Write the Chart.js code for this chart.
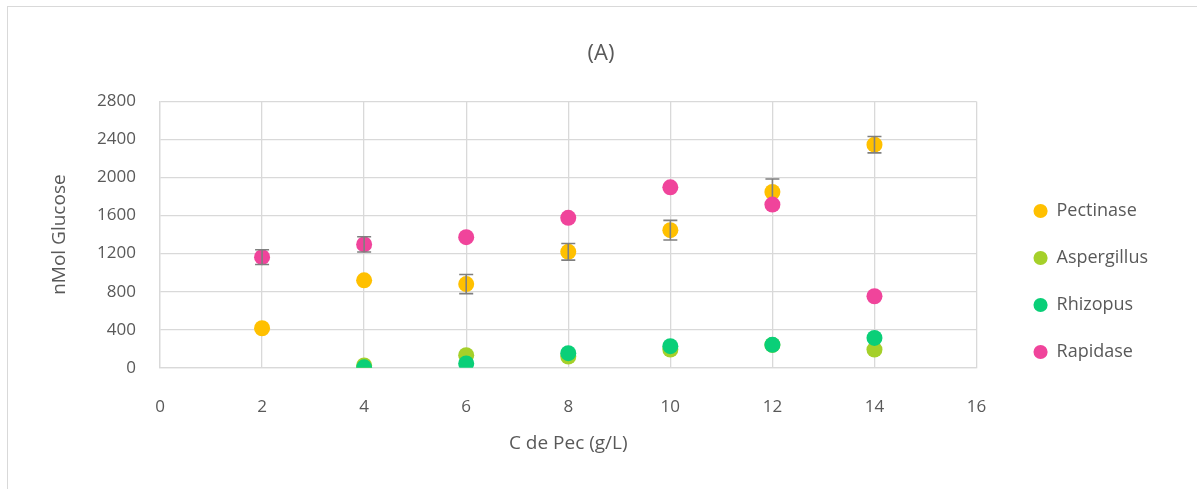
<!DOCTYPE html>
<html>
<head>
<meta charset="utf-8">
<script src="https://cdn.jsdelivr.net/npm/chart.js@4/dist/chart.umd.min.js"></script>
<style>
  html, body { margin: 0; padding: 0; background: #fff; }
  #wrap { position: absolute; left: 0; top: 0; width: 1197px; height: 489px; }
  #frame { position: absolute; left: 7px; top: 6px; width: 1190px; height: 483px;
           border-left: 1px solid #d9d9d9; border-top: 1px solid #d9d9d9; }
</style>
</head>
<body>
<div id="wrap">
  <div id="frame"></div>
  <canvas id="chart" width="1197" height="489"></canvas>
</div>
<script>
// concentration (g/L)
var concentrations = [2, 4, 6, 8, 10, 12, 14];

var pectinase    = [416, 919, 880, 1219, 1447, 1848, 2345];
var pectinaseErr = [0, 0, 100, 87, 103, 136, 86];

var aspergillus    = [null, 25, 133, 118, 192, 240, 192];
var aspergillusErr = [0, 0, 0, 0, 0, 0, 0];

var rhizopus    = [null, 5, 45, 154, 227, 241, 314];
var rhizopusErr = [0, 0, 0, 0, 0, 0, 0];

var rapidase    = [1163, 1297, 1373, 1576, 1897, 1716, 752];
var rapidaseErr = [77, 80, 0, 0, 0, 0, 0];

var yTicks = [0, 400, 800, 1200, 1600, 2000, 2400, 2800];

function toPoints(ys) {
  var pts = [];
  for (var i = 0; i < concentrations.length; i++) {
    if (ys[i] !== null) pts.push({ x: concentrations[i], y: ys[i] });
  }
  return pts;
}

function series(label, ys, errs, color, order) {
  return {
    label: label,
    data: toPoints(ys),
    errors: errs,
    values: ys,
    backgroundColor: color,
    borderColor: color,
    borderWidth: 0,
    pointRadius: 8,
    pointHoverRadius: 8,
    order: order
  };
}

// draws the error bars right after each series so later series cover them
var errorBars = {
  id: 'errorBars',
  afterDatasetDraw: function (chart, args) {
    var ds = chart.data.datasets[args.index];
    var x = chart.scales.x, y = chart.scales.y;
    var c = chart.ctx;
    c.save();
    c.strokeStyle = '#7f7f7f';
    c.lineWidth = 1.6;
    for (var i = 0; i < concentrations.length; i++) {
      var v = ds.values[i], e = ds.errors[i];
      if (v === null || !e) continue;
      var px = x.getPixelForValue(concentrations[i]);
      var top = y.getPixelForValue(v + e);
      var bot = y.getPixelForValue(v - e);
      c.beginPath();
      c.moveTo(px, top); c.lineTo(px, bot);
      c.moveTo(px - 7, top); c.lineTo(px + 7, top);
      c.moveTo(px - 7, bot); c.lineTo(px + 7, bot);
      c.stroke();
    }
    c.restore();
  }
};

// legend a bit away from the plot and lower, like the original
var legendGap = 28, legendDrop = 47;
var legendShift = {
  id: 'legendShift',
  afterInit: function (chart) {
    var lg = chart.legend;
    var fit = lg.fit;
    lg.fit = function () { fit.call(this); this.width += legendGap; };
  },
  afterLayout: function (chart) {
    var lg = chart.legend;
    lg.left += legendGap;
    lg.top += legendDrop;
    lg.bottom += legendDrop;
  }
};

var gray = '#595959';
var fontFam = '"Open Sans", "Liberation Sans", sans-serif';

var ctx = document.getElementById('chart');
var mychart = new Chart(ctx, {
  type: 'scatter',
  data: {
    datasets: [
      series('Pectinase', pectinase, pectinaseErr, '#ffc000', 4),
      series('Aspergillus', aspergillus, aspergillusErr, '#a5d02a', 3),
      series('Rhizopus', rhizopus, rhizopusErr, '#0acf78', 2),
      series('Rapidase', rapidase, rapidaseErr, '#f0449b', 1)
    ]
  },
  plugins: [errorBars, legendShift],
  options: {
    responsive: false,
    animation: false,
    layout: { padding: { left: 44, right: 39, top: 10, bottom: 30 } },
    plugins: {
      title: {
        display: true,
        text: '(A)',
        color: gray,
        font: { family: fontFam, size: 22, weight: 'normal' },
        padding: { top: 31, bottom: 34 }
      },
      legend: {
        position: 'right',
        labels: {
          usePointStyle: true,
          pointStyle: 'circle',
          boxWidth: 14,
          boxHeight: 10,
          padding: 29,
          color: gray,
          font: { family: fontFam, size: 18 },
          sort: function (a, b) { return a.datasetIndex - b.datasetIndex; }
        }
      },
      tooltip: { enabled: false }
    },
    scales: {
      x: {
        type: 'linear',
        min: 0,
        max: 16,
        ticks: { stepSize: 2, color: gray, padding: 29, font: { family: fontFam, size: 17 } },
        grid: { color: '#d9d9d9', lineWidth: 1.3, drawTicks: false },
        border: { color: '#d9d9d9', width: 1.3 },
        title: {
          display: true,
          text: 'C de Pec (g/L)',
          color: gray,
          font: { family: fontFam, size: 19 },
          padding: { top: -14 }
        }
      },
      y: {
        min: 0,
        max: 2800,
        afterBuildTicks: function (axis) {
          axis.ticks = yTicks.map(function (v) { return { value: v }; });
        },
        afterFit: function (axis) { axis.width = 116; },
        ticks: {
          color: gray, padding: 24, font: { family: fontFam, size: 17 },
          callback: function (value) { return String(value); }
        },
        grid: { color: '#d9d9d9', lineWidth: 1.3, drawTicks: false },
        border: { color: '#d9d9d9', width: 1.3 },
        title: {
          display: true,
          text: 'nMol Glucose',
          color: gray,
          font: { family: fontFam, size: 19 },
          padding: { bottom: 4 }
        }
      }
    }
  }
});
console.log('area', mychart.chartArea);
</script>
</body>
</html>
